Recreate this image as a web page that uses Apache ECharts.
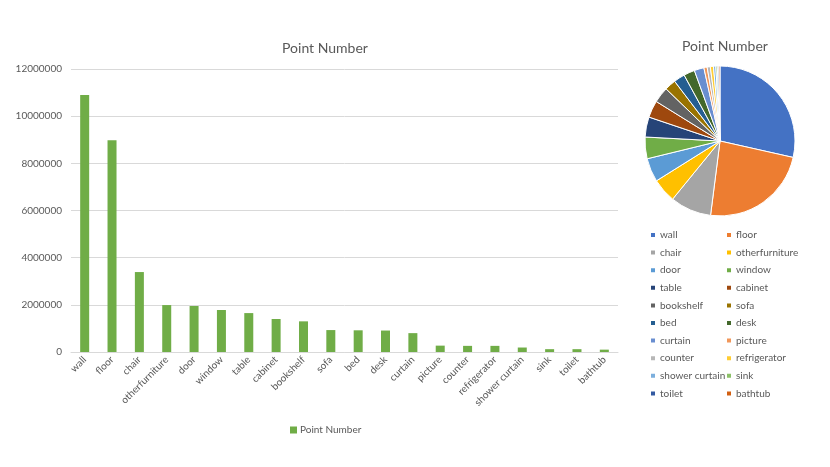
<!DOCTYPE html>
<html lang="en">
<head>
    <meta charset="UTF-8">
    <title>Point Number</title>
    <style>
        html, body { margin: 0; padding: 0; background: #fff; }
        #chart { width: 830px; height: 467px; }
    </style>
</head>
<body>
<div id="chart"></div>
<script src="https://cdn.jsdelivr.net/npm/echarts@6/dist/echarts.min.js"></script>
<script>
    var categories = ['wall', 'floor', 'chair', 'otherfurniture', 'door', 'window', 'table', 'cabinet', 'bookshelf', 'sofa',
        'bed', 'desk', 'curtain', 'picture', 'counter', 'refrigerator', 'shower curtain', 'sink', 'toilet', 'bathtub'];
    var pointNumber = [10900000, 8980000, 3390000, 1990000, 1950000, 1780000, 1650000, 1400000, 1300000, 930000,
        920000, 910000, 800000, 270000, 260000, 260000, 190000, 120000, 120000, 100000];
    var yTicks = [0, 2000000, 4000000, 6000000, 8000000, 10000000, 12000000];

    var textColor = '#595959';
    var font = 'Lato';
    var pieColors = ['#4472C4', '#ED7D31', '#A5A5A5', '#FFC000', '#5B9BD5', '#70AD47', '#264478', '#9E480E', '#636363', '#997300',
        '#255E91', '#43682B', '#698ED0', '#F1975A', '#B7B7B7', '#FFCD33', '#7CAFDD', '#8CC168', '#335AA1', '#D26012'];

    var pieData = categories.map(function (c, i) {
        return { name: c, value: pointNumber[i] };
    });
    var leftNames = categories.filter(function (c, i) { return i % 2 === 0; });
    var rightNames = categories.filter(function (c, i) { return i % 2 === 1; });

    function pieLegend(names, left) {
        return {
            data: names,
            orient: 'vertical',
            left: left,
            top: 224,
            icon: 'rect',
            itemWidth: 6,
            itemHeight: 6,
            itemGap: 5.6,
            textStyle: { color: textColor, fontFamily: font, fontSize: 10, lineHeight: 12, padding: [0, 0, 0, -1] }
        };
    }

    var chart = echarts.init(document.getElementById('chart'));
    chart.setOption({
        color: pieColors,
        textStyle: { fontFamily: font },
        title: [
            { text: 'Point Number', left: 320, top: 36, textAlign: 'center',
              textStyle: { color: textColor, fontFamily: font, fontSize: 14, fontWeight: 'normal' } },
            { text: 'Point Number', left: 720, top: 34, textAlign: 'center',
              textStyle: { color: textColor, fontFamily: font, fontSize: 14, fontWeight: 'normal' } }
        ],
        legend: [
            { data: ['Point Number'], left: 285, top: 420, icon: 'rect', itemWidth: 7, itemHeight: 7,
              textStyle: { color: textColor, fontFamily: font, fontSize: 10, padding: [0, 0, 0, -2] } },
            pieLegend(leftNames, 644),
            pieLegend(rightNames, 720)
        ],
        grid: { left: 71, right: 212, top: 69, bottom: 115 },
        xAxis: {
            type: 'category',
            data: categories,
            axisLine: { lineStyle: { color: '#d9d9d9' } },
            axisTick: { show: false },
            axisLabel: { color: textColor, fontFamily: font, fontSize: 10, rotate: 45, interval: 0, margin: 6 }
        },
        yAxis: {
            type: 'value',
            min: yTicks[0],
            max: yTicks[yTicks.length - 1],
            interval: yTicks[1] - yTicks[0],
            axisLine: { show: false },
            axisTick: { show: false },
            splitLine: { lineStyle: { color: '#d9d9d9' } },
            axisLabel: {
                color: textColor, fontFamily: font, fontSize: 10, margin: 9,
                formatter: function (v) { return String(v); }
            }
        },
        series: [
            {
                name: 'Point Number',
                type: 'bar',
                data: pointNumber,
                barWidth: 9,
                itemStyle: { color: '#70AD47' },
                animation: false
            },
            {
                name: 'pie',
                type: 'pie',
                center: [720, 141],
                radius: 75,
                startAngle: 90,
                data: pieData,
                label: { show: false },
                labelLine: { show: false },
                itemStyle: { borderColor: '#fff', borderWidth: 1 },
                animation: false
            }
        ]
    });
</script>
</body>
</html>
